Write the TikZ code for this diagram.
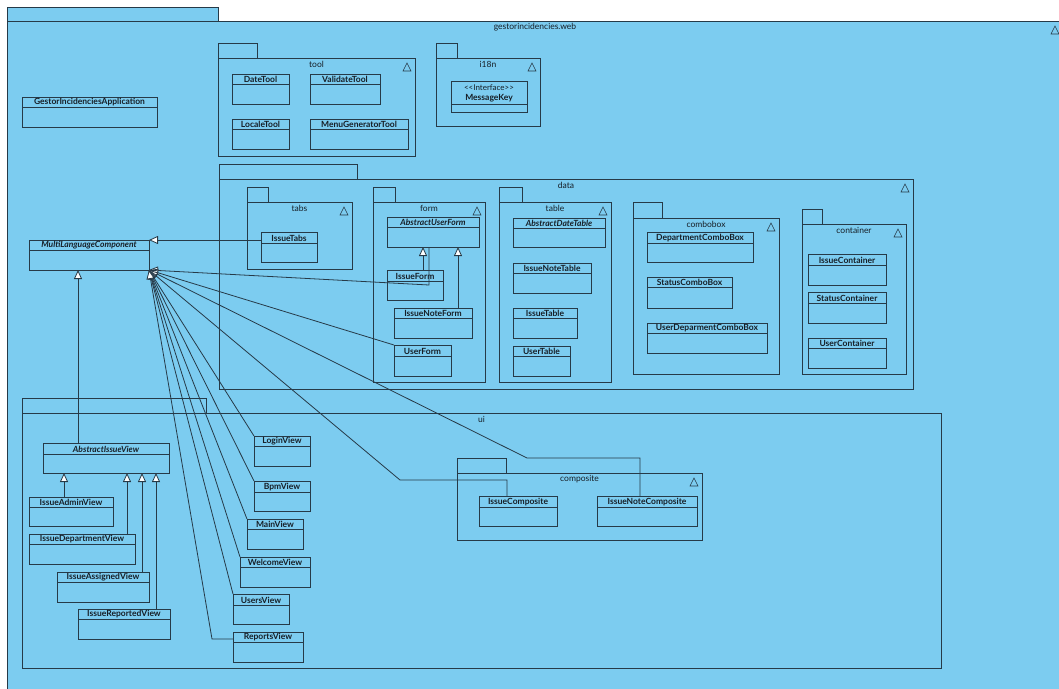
\documentclass[tikz,border=0pt]{standalone}
\usepackage{fontspec}
\setmainfont{Lato}
\usetikzlibrary{fit,arrows.meta,calc}
\definecolor{pkgblue}{RGB}{124,204,240}
\definecolor{umlink}{RGB}{38,58,72}
\definecolor{txtink}{RGB}{22,30,38}
\tikzset{
  umlline/.style={draw=umlink, line width=0.8pt},
  clsbox/.style={umlline, fill=pkgblue, inner sep=0pt, outer sep=0pt},
  pkgbox/.style={umlline, fill=pkgblue, inner sep=0pt, outer sep=0pt},
  clsname/.style={text=txtink, font=\bfseries\fontsize{8.5}{10}\selectfont, inner sep=0pt},
  stereo/.style={text=txtink, font=\fontsize{8}{9}\selectfont, inner sep=0pt},
  pkglabel/.style={text=txtink, font=\fontsize{8.5}{10}\selectfont, inner sep=0pt},
  gen/.style={umlline, -{Triangle[open, fill=white, length=9pt, width=8pt]}},
}
% class: id, x1, y1, x2, y2, header y, label
\newcommand\umlc[7]{%
  \node[clsbox, fit={(#2,#3) (#4,#5)}] (#1) {};
  \draw[umlline] (#2,#6) -- (#4,#6);
  \node[clsname] (#1-l) at ({(#2+#4)/2},{(#3+#6)/2+0.5}) {#7};
}
% package: id, x1, tab top, tab right, body top, x2, y2, label
\newcommand\umlp[8]{%
  \draw[pkgbox] (#2,#3) rectangle (#4,#5);
  \node[pkgbox, fit={(#2,#5) (#6,#7)}] (#1) {};
  \node[pkglabel] (#1-l) at ({(#2+#6)/2},{#5+6}) {#8};
}
\newcommand\ptri[1]{\draw[umlline, line width=0.6pt, fill=none] ($(#1.north east)+(-12,13)$) -- ++(4,-8) -- ++(4,8) -- cycle;}
\begin{document}
\begin{tikzpicture}[x=1pt,y=-1pt]
\useasboundingbox (0,0) rectangle (1059,688);
\clip (0,0) rectangle (1059,688);
\fill[white] (0,0) rectangle (1059,688);

% outer package
\umlp{web}{7}{7}{218}{21}{1063}{695}{gestorincidencies.web}
\ptri{web}

\umlc{app}{22}{97}{157}{127}{107}{GestorIncidenciesApplication}

% tool
\umlp{tool}{218}{43}{257}{58}{415}{156}{tool}
\ptri{tool}
\umlc{datetool}{232}{74}{289}{104}{84}{DateTool}
\umlc{validatetool}{310}{74}{380}{104}{84}{ValidateTool}
\umlc{localetool}{232}{119}{289}{149}{129}{LocaleTool}
\umlc{menugentool}{310}{119}{408}{149}{129}{MenuGeneratorTool}

% i18n
\umlp{i18n}{436}{43}{457}{58}{540}{126}{i18n}
\ptri{i18n}
\node[clsbox, fit={(451,81) (527,112)}] (msgkey) {};
\draw[umlline] (451,104) -- (527,104);
\node[stereo] (msgkey-s) at (489,88) {<{}<Interface>{}>};
\node[clsname] (msgkey-l) at (489,98) {MessageKey};

% data
\umlp{data}{219}{164}{357}{179}{913}{389}{data}
\ptri{data}
\umlp{tabs}{247}{187}{268}{202}{352}{269}{tabs}
\ptri{tabs}
\umlc{issuetabs}{261}{232}{317}{262}{243}{IssueTabs}

\umlp{form}{373}{187}{395}{202}{485}{382}{form}
\ptri{form}
\umlc{absuserform}{387}{217}{479}{247}{227}{\itshape AbstractUserForm}
\umlc{issueform}{387}{270}{443}{300}{281}{IssueForm}
\umlc{issuenoteform}{394}{308}{472}{338}{318}{IssueNoteForm}
\umlc{userform}{394}{345}{451}{376}{356}{UserForm}

\umlp{table}{499}{187}{522}{202}{611}{382}{table}
\ptri{table}
\umlc{absdatetable}{513}{218}{605}{247}{228}{\itshape AbstractDateTable}
\umlc{issuenotetable}{513}{263}{591}{293}{273}{IssueNoteTable}
\umlc{issuetable}{513}{308}{577}{338}{318}{IssueTable}
\umlc{usertable}{513}{346}{570}{376}{356}{UserTable}

\umlp{combobox}{633}{202}{662}{218}{779}{374}{combobox}
\ptri{combobox}
\umlc{deptcombo}{647}{232}{753}{262}{243}{DepartmentComboBox}
\umlc{statuscombo}{647}{277}{732}{308}{287}{StatusComboBox}
\umlc{userdeptcombo}{647}{323}{767}{353}{333}{UserDeparmentComboBox}

\umlp{container}{802}{209}{822}{224}{906}{374}{container}
\ptri{container}
\umlc{issuecont}{808}{254}{886}{285}{265}{IssueContainer}
\umlc{statuscont}{808}{292}{886}{323}{303}{StatusContainer}
\umlc{usercont}{808}{338}{886}{368}{348}{UserContainer}

\umlc{mlc}{29}{240}{149}{270}{250}{\itshape MultiLanguageComponent}

% ui
\umlp{ui}{22}{398}{206}{413}{941}{668}{ui}
\umlc{absissueview}{43}{443}{169}{473}{454}{\itshape AbstractIssueView}
\umlc{issueadminview}{29}{497}{113}{526}{507}{IssueAdminView}
\umlc{issuedeptview}{29}{534}{135}{564}{544}{IssueDepartmentView}
\umlc{issueassignedview}{57}{572}{149}{602}{582}{IssueAssignedView}
\umlc{issuereportedview}{78}{609}{170}{639}{619}{IssueReportedView}
\umlc{loginview}{254}{436}{310}{466}{446}{LoginView}
\umlc{bpmview}{254}{481}{310}{511}{492}{BpmView}
\umlc{mainview}{247}{519}{303}{549}{529}{MainView}
\umlc{welcomeview}{240}{557}{310}{587}{567}{WelcomeView}
\umlc{usersview}{233}{594}{289}{624}{605}{UsersView}
\umlc{reportsview}{233}{632}{303}{662}{642}{ReportsView}

\umlp{composite}{457}{458}{506}{473}{702}{540}{composite}
\ptri{composite}
\umlc{issuecomposite}{479}{496}{557}{526}{507}{IssueComposite}
\umlc{issuenotecomposite}{597}{496}{697}{526}{507}{IssueNoteComposite}

% generalizations
\draw[gen] (issueform.north -| 423,0) -- (absuserform.south -| 423,0);
\draw[gen] (issuenoteform.north -| 458,0) -- (absuserform.south -| 458,0);
\draw[gen] (issuetabs.west |- 0,240) -- (mlc.east |- 0,240);
\draw[gen] (absuserform.south -| 429,0) -- (429,285) -- (mlc.south east);
\draw[gen] (userform.north west) -- (mlc.south east);
\draw[gen] (issuenotecomposite.north -| 640,0) -- (640,458) -- (527,458) -- (mlc.south east);
\draw[gen] (issuecomposite.north -| 507,0) -- (507,480) -- (400,480) -- (mlc.south east);
\draw[gen] (loginview.north west) -- (mlc.south east);
\draw[gen] (bpmview.north west) -- (mlc.south east);
\draw[gen] (mainview.north west) -- (mlc.south east);
\draw[gen] (welcomeview.north west) -- (mlc.south east);
\draw[gen] (usersview.north west) -- (mlc.south east);
\draw[gen] (reportsview.west |- 0,639) -- (212,639) -- (mlc.south east);
\draw[gen] (absissueview.north -| 78,0) -- (mlc.south -| 78,0);
\draw[gen] (issueadminview.north -| 64,0) -- (absissueview.south -| 64,0);
\draw[gen] (issuedeptview.north -| 127,0) -- (absissueview.south -| 127,0);
\draw[gen] (issueassignedview.north -| 142,0) -- (absissueview.south -| 142,0);
\draw[gen] (issuereportedview.north -| 156,0) -- (absissueview.south -| 156,0);
\end{tikzpicture}
\end{document}
